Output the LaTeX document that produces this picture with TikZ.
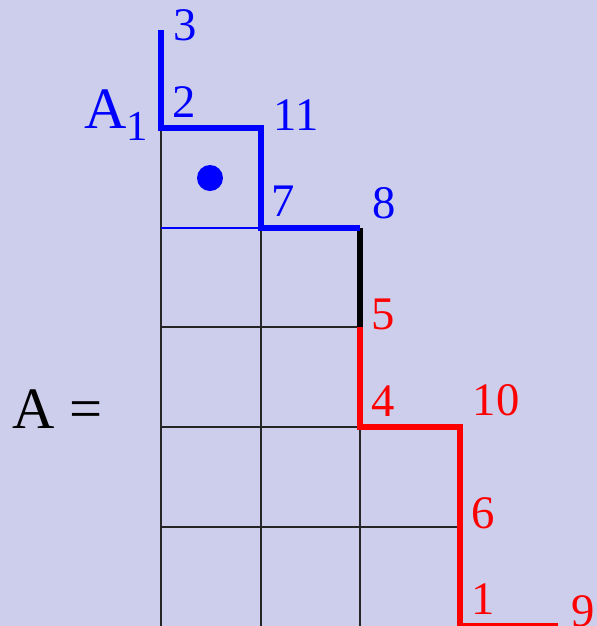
\documentclass[tikz,border=0pt]{standalone}
\usepackage{fontspec}
\setmainfont{Liberation Serif}
\definecolor{bgc}{RGB}{204,206,236}
\begin{document}
\begin{tikzpicture}[x=0.75pt,y=-0.75pt,
  grid/.style={draw=black!85,line width=1pt},
  thick blue/.style={draw=blue,line width=3.8pt},
  thick red/.style={draw=red,line width=3.8pt},
  thick black/.style={draw=black,line width=3.8pt},
  num/.style={font=\fontsize{35}{40}\selectfont,inner sep=0pt},
  bnum/.style={num,text=blue},
  rnum/.style={num,text=red}]
\fill[bgc] (0,0) rectangle (597,626);
\useasboundingbox (0,0) rectangle (597,626);
% coordinates
\coordinate (p3) at (161,30);
\coordinate (p2) at (161,128);
\coordinate (p11) at (261,128);
\coordinate (p7) at (261,228);
\coordinate (p8) at (360,228);
\coordinate (p5) at (360,327);
\coordinate (p4) at (360,427);
\coordinate (p10) at (460,427);
\coordinate (p1) at (460,626);
\coordinate (p9) at (558,626);
% grid
\draw[grid] (161,128) -- (161,626);
\draw[grid] (261,228) -- (261,626);
\draw[grid] (360,327) -- (360,626);
\draw[grid] (161,327) -- (360,327);
\draw[grid] (161,427) -- (360,427);
\draw[grid] (161,527) -- (460,527);
\draw[draw=blue,line width=1pt] (161,228) -- (261,228);
\draw[grid] (261,228) -- (360,228);
% staircase
\draw[thick black] (p8) -- (p5);
\draw[thick red] (p5) -- (p4) -- (p10) -- (p1) -- (p9);
\draw[thick blue,line join=miter] (p3) -- (p2) -- (p11) -- (p7) -- (p8);
% dot
\fill[blue] (210,178) circle (13);
% labels
\node[bnum] (l3) at (185,25) {3};
\node[bnum] (l2) at (184,102) {2};
\node[text=blue,inner sep=0pt,font=\fontsize{44}{48}\selectfont] (lA1) at (116,115) {A\raisebox{-0.45ex}{\fontsize{32}{36}\selectfont 1}};
\node[bnum] (l11) at (296,115) {11};
\node[bnum] (l7) at (283,201) {7};
\node[bnum] (l8) at (384,203) {8};
\node[rnum] (l5) at (383,314) {5};
\node[rnum] (l4) at (383,401) {4};
\node[rnum] (l10) at (496,400) {10};
\node[rnum] (l6) at (483,513) {6};
\node[rnum] (l1) at (483,599) {1};
\node[rnum] (l9) at (583,611) {9};
\node[inner sep=0pt,font=\fontsize{44}{48}\selectfont] (lA) at (58,409) {A =};
\end{tikzpicture}
\end{document}
